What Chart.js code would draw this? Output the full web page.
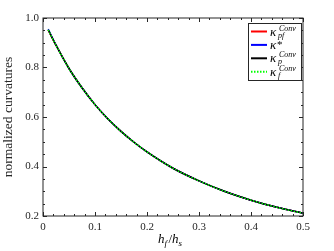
<!DOCTYPE html>
<html>
<head>
<meta charset="utf-8">
<script src="https://cdn.jsdelivr.net/npm/chart.js@4.4.0/dist/chart.umd.min.js"></script>
<style>
html,body{margin:0;padding:0;background:#fff;}
#wrap{width:334px;height:251px;}
</style>
</head>
<body>
<div id="wrap"><canvas id="c" width="334" height="251"></canvas></div>
<script>
// h_f/h_s values
const ratio=[0.01,0.025,0.05,0.075,0.1,0.125,0.15,0.175,0.2,0.25,0.3,0.35,0.4,0.45,0.5];
// normalized curvatures (the four curves lie on top of each other)
const kPfConv=[0.952,0.890,0.796,0.718,0.650,0.592,0.542,0.498,0.459,0.393,0.342,0.299,0.264,0.235,0.211];
const kStar=[0.955,0.891,0.796,0.718,0.650,0.592,0.542,0.498,0.459,0.393,0.342,0.299,0.264,0.235,0.211];
const kPConv=[0.952,0.890,0.796,0.718,0.650,0.592,0.542,0.498,0.459,0.393,0.342,0.299,0.264,0.235,0.211];
const kFConv=[0.952,0.890,0.796,0.718,0.650,0.592,0.542,0.498,0.459,0.393,0.342,0.299,0.264,0.235,0.211];
const xTicks=[0,0.1,0.2,0.3,0.4,0.5];
const yTicks=[0.2,0.4,0.6,0.8,1];

const AX='#262626';
const pts=arr=>arr.map((v,i)=>({x:ratio[i],y:v}));

const legendItems=[
{color:'#ff0000',dash:[],sup:'Conv',sub:'pf'},
{color:'#0000ff',dash:[],sup:'*',sub:''},
{color:'#000000',dash:[],sup:'Conv',sub:'p'},
{color:'#00ff00',dash:[1.5,1.5],sup:'Conv',sub:'f'}
];

const framePlugin={
id:'frame',
afterDraw(chart){
const ctx=chart.ctx,a=chart.chartArea;
const xs=chart.scales.x,ys=chart.scales.y;
ctx.save();
ctx.strokeStyle=AX;ctx.lineWidth=1;
ctx.strokeRect(a.left,a.top,a.right-a.left,a.bottom-a.top);
// inward ticks, minor every 0.02 on x and 0.05 on y
ctx.beginPath();
for(let i=0;i<=25;i++){
const v=i*0.02,px=Math.round(xs.getPixelForValue(v))+0.5,len=(i%5===0)?4:2;
ctx.moveTo(px,a.bottom);ctx.lineTo(px,a.bottom-len);
ctx.moveTo(px,a.top);ctx.lineTo(px,a.top+len);
}
for(let i=0;i<=16;i++){
const v=0.2+i*0.05,py=Math.round(ys.getPixelForValue(v))+0.5,len=(i%4===0)?4:2;
ctx.moveTo(a.left,py);ctx.lineTo(a.left+len,py);
ctx.moveTo(a.right,py);ctx.lineTo(a.right-len,py);
}
ctx.stroke();
// legend box
const lx=248,ly=23,lw=53,lh=57;
ctx.fillStyle='#fff';ctx.fillRect(lx,ly,lw,lh);
ctx.strokeStyle=AX;ctx.strokeRect(lx+0.5,ly+0.5,lw,lh);
legendItems.forEach((it,i)=>{
const y=31.5+i*13.4;
ctx.strokeStyle=it.color;ctx.lineWidth=2;ctx.setLineDash(it.dash);
ctx.beginPath();ctx.moveTo(251,y);ctx.lineTo(267,y);ctx.stroke();
ctx.setLineDash([]);
ctx.fillStyle='#000';ctx.textBaseline='alphabetic';ctx.textAlign='left';
ctx.font='italic 13px "Liberation Serif"';
ctx.fillText('κ',270,y+4);
ctx.font='italic 8px "Liberation Serif"';
if(it.sup==='*'){ctx.font='11px "Liberation Serif"';ctx.fillText('*',277,y+3);}
else ctx.fillText(it.sup,279,y-1);
ctx.font='italic 8px "Liberation Serif"';
if(it.sub)ctx.fillText(it.sub,278,y+6);
});
// x axis title h_f/h_s
ctx.fillStyle='#000';
let x=158;const by=243;
ctx.font='italic 13px "Liberation Serif"';
ctx.fillText('h',x,by);x+=ctx.measureText('h').width;
ctx.font='italic 9px "Liberation Serif"';
ctx.fillText('f',x,by+3);x+=ctx.measureText('f').width+1.5;
ctx.font='13px "Liberation Serif"';
ctx.fillText('/',x,by);x+=ctx.measureText('/').width;
ctx.font='italic 13px "Liberation Serif"';
ctx.fillText('h',x,by);x+=ctx.measureText('h').width;
ctx.font='italic 9px "Liberation Serif"';
ctx.fillText('s',x,by+3);
ctx.restore();
}
};

const line={pointRadius:0,borderWidth:1.5,cubicInterpolationMode:'monotone'};
new Chart(document.getElementById('c'),{
type:'line',
data:{datasets:[
{...line,label:'kPfConv',data:pts(kPfConv),borderColor:'#ff0000',order:4},
{...line,label:'kStar',data:pts(kStar),borderColor:'#0000ff',order:3},
{...line,label:'kPConv',data:pts(kPConv),borderColor:'#000000',order:2},
{...line,label:'kFConv',data:pts(kFConv),borderColor:'#00ff00',borderDash:[1.5,1.5],order:1}
]},
options:{
responsive:false,animation:false,
layout:{padding:{top:18,right:31,left:0,bottom:0}},
plugins:{legend:{display:false},tooltip:{enabled:false}},
scales:{
x:{type:'linear',min:0,max:0.5,
afterBuildTicks:s=>{s.ticks=xTicks.map(v=>({value:v}));},
afterFit:s=>{s.height=35;},
grid:{display:false,drawTicks:false},border:{display:false},
ticks:{padding:5,color:AX,font:{family:'Liberation Serif',size:11},maxRotation:0}},
y:{min:0.2,max:1,
afterBuildTicks:s=>{s.ticks=yTicks.map(v=>({value:v}));},
afterFit:s=>{s.width=43;},
grid:{display:false,drawTicks:false},border:{display:false},
title:{display:true,text:'normalized curvatures',color:AX,font:{family:'Liberation Serif',size:13.5},padding:{top:0,bottom:4}},
ticks:{padding:4,color:AX,font:{family:'Liberation Serif',size:11}}}
}
},
plugins:[framePlugin]
});
</script>
</body>
</html>
